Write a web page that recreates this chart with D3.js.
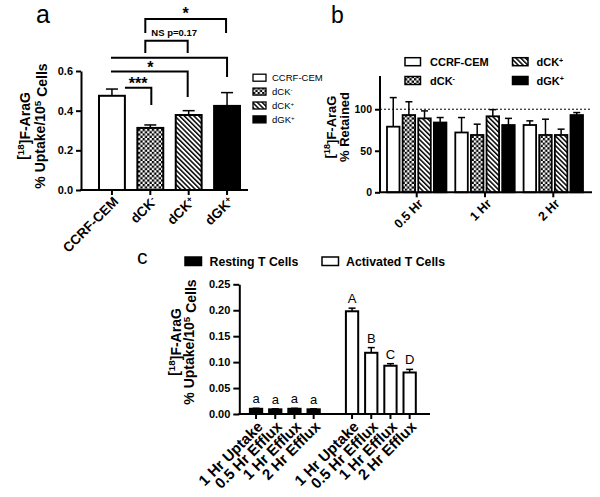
<!DOCTYPE html>
<html>
<head>
<meta charset="utf-8">
<script src="https://cdn.jsdelivr.net/npm/d3@7"></script>
<style>
  body { margin: 0; background: #fff; }
</style>
</head>
<body>
<script>
// ---- data ----
// panel a : uptake
const aCategories = ['CCRF-CEM', 'dCK-', 'dCK+', 'dGK+'];
const aValues = [0.475, 0.313, 0.378, 0.424];
const aErrors = [0.034, 0.015, 0.022, 0.067];
const aTicks = [0, 0.2, 0.4, 0.6];
// significance brackets (from/to category, y in data units)
const aBrackets = [
  { from: 'dCK-', to: 'dGK+', y: 0.862, drop1: 0.792, drop2: 0.792, label: '*', dx1: -5, dx2: -1 },
  { from: 'dCK-', to: 'dCK+', y: 0.753, drop1: 0.691, drop2: 0.691, label: 'NS p=0.17', dx1: -5, dx2: -1 },
  { from: 'CCRF-CEM', to: 'dGK+', y: 0.667, drop1: null, drop2: 0.570, label: '', dx1: -1, dx2: 0 },
  { from: 'CCRF-CEM', to: 'dCK+', y: 0.597, drop1: null, drop2: 0.469, label: '*', dx1: -1, dx2: -1 },
  { from: 'CCRF-CEM', to: 'dCK-', y: 0.516, drop1: null, drop2: 0.429, label: '***', dx1: 13, dx2: 1 }
];

// panel b : retention
const bTimes = ['0.5 Hr', '1 Hr', '2 Hr'];
const bSeries = ['CCRF-CEM', 'dCK-', 'dCK+', 'dGK+'];
const bValues = [[79, 93, 89, 84], [72, 69, 91.5, 81], [81, 69, 69, 93]];
const bErrors = [[35, 16, 9, 6], [18, 13, 8, 8], [5, 19, 7, 3]];
const bTicks = [0, 50, 100];

// panel c : T cells
const cLabels = ['1 Hr Uptake', '0.5 Hr Efflux', '1 Hr Efflux', '2 Hr Efflux'];
const cGroups = ['Resting T Cells', 'Activated T Cells'];
const cResting = [0.010, 0.009, 0.010, 0.009];
const cRestingErr = [0.001, 0.001, 0.001, 0.001];
const cActivated = [0.198, 0.118, 0.093, 0.080];
const cActivatedErr = [0.006, 0.010, 0.004, 0.006];
const cRestingLetters = ['a', 'a', 'a', 'a'];
const cActivatedLetters = ['A', 'B', 'C', 'D'];
const cTicks = [0, 0.05, 0.10, 0.15, 0.20, 0.25];

const font = '"Liberation Sans", Arial, sans-serif';

const svg = d3.select('body').append('svg')
  .attr('width', 600)
  .attr('height', 497)
  .style('font-family', font);

// ---- patterns ----
const defs = svg.append('defs');
const checker = defs.append('pattern')
  .attr('id', 'checker')
  .attr('patternUnits', 'userSpaceOnUse')
  .attr('width', 4.6).attr('height', 4.6);
checker.append('rect').attr('width', 4.6).attr('height', 4.6).attr('fill', '#fff');
checker.append('rect').attr('width', 2.3).attr('height', 2.3).attr('fill', '#000');
checker.append('rect').attr('x', 2.3).attr('y', 2.3).attr('width', 2.3).attr('height', 2.3).attr('fill', '#000');

const stripes = defs.append('pattern')
  .attr('id', 'stripes')
  .attr('patternUnits', 'userSpaceOnUse')
  .attr('width', 3.4).attr('height', 3.4)
  .attr('patternTransform', 'rotate(-45)');
stripes.append('rect').attr('width', 3.4).attr('height', 3.4).attr('fill', '#fff');
stripes.append('rect').attr('width', 1.5).attr('height', 3.4).attr('fill', '#000');

const fills = {
  'CCRF-CEM': '#fff',
  'dCK-': 'url(#checker)',
  'dCK+': 'url(#stripes)',
  'dGK+': '#000'
};

// text with trailing +/- as superscript
function supText(sel, name, supSize) {
  const m = name.match(/^(dCK|dGK)([+-])$/);
  sel.text(null);
  if (!m) { sel.text(name); return; }
  sel.append('tspan').text(m[1]);
  sel.append('tspan').attr('dy', '-0.45em').attr('font-size', supSize || '65%').text(m[2]);
}

// y-axis title: "[18F]F-AraG" + second line
function yTitle(g, cx1, cx2, cy, line2, size) {
  const t1 = g.append('text')
    .attr('transform', `translate(${cx1},${cy}) rotate(-90)`)
    .attr('text-anchor', 'middle')
    .attr('dy', '0.35em')
    .attr('font-size', size)
    .attr('font-weight', 'bold');
  t1.append('tspan').text('[');
  t1.append('tspan').attr('dy', '-0.4em').attr('font-size', '70%').text('18');
  t1.append('tspan').attr('dy', '0.4em').text(']F-AraG');
  const t2 = g.append('text')
    .attr('transform', `translate(${cx2},${cy}) rotate(-90)`)
    .attr('text-anchor', 'middle')
    .attr('dy', '0.35em')
    .attr('font-size', size)
    .attr('font-weight', 'bold');
  if (line2 === 'uptake') {
    t2.append('tspan').text('% Uptake/10');
    t2.append('tspan').attr('dy', '-0.4em').attr('font-size', '70%').text('5');
    t2.append('tspan').attr('dy', '0.4em').text(' Cells');
  } else {
    t2.text(line2);
  }
}

function styleAxis(g, fontSize) {
  g.attr('font-family', font).attr('font-size', fontSize).attr('font-weight', 'bold');
  g.selectAll('path, line').attr('stroke', '#000').attr('stroke-width', 2);
  g.selectAll('text').attr('fill', '#000');
}

function errorBar(g, cx, yTop, yVal, cap) {
  g.append('line').attr('x1', cx).attr('x2', cx).attr('y1', yVal).attr('y2', yTop)
    .attr('stroke', '#000').attr('stroke-width', 1.5);
  g.append('line').attr('x1', cx - cap / 2).attr('x2', cx + cap / 2).attr('y1', yTop).attr('y2', yTop)
    .attr('stroke', '#000').attr('stroke-width', 1.5);
}

// panel letters
svg.append('text').attr('x', 36).attr('y', 23).attr('font-size', 25).text('a');
svg.append('text').attr('x', 331).attr('y', 22.5).attr('font-size', 23).text('b');
svg.append('text').attr('x', 137).attr('y', 264).attr('font-size', 21).text('c');

// ================= panel a =================
(function () {
  const g = svg.append('g');
  const y = d3.scaleLinear().domain([0, 0.6]).range([190, 71]);
  const x = d3.scaleBand().domain(aCategories).range([99, 240]).paddingInner(0.325);
  const bw = x.bandwidth();

  // bars
  aCategories.forEach((c, i) => {
    g.append('rect')
      .attr('x', x(c)).attr('y', y(aValues[i]))
      .attr('width', bw).attr('height', y(0) - y(aValues[i]))
      .attr('fill', fills[c]).attr('stroke', '#000').attr('stroke-width', 2);
    errorBar(g, x(c) + bw / 2, y(aValues[i] + aErrors[i]), y(aValues[i]), 12);
  });

  // axes
  const yAxis = g.append('g').attr('transform', 'translate(81,0)')
    .call(d3.axisLeft(y).tickValues(aTicks).tickFormat(d3.format('.1f')).tickSize(5).tickSizeOuter(0).tickPadding(3));
  styleAxis(yAxis, 11);
  const xAxis = g.append('g').attr('transform', 'translate(0,190)')
    .call(d3.axisBottom(x).tickSize(5).tickSizeOuter(0).tickFormat(''));
  styleAxis(xAxis, 13.5);
  xAxis.select('.domain').attr('d', 'M80,0H248');
  xAxis.selectAll('.tick').each(function (d) {
    const t = d3.select(this).append('text')
      .attr('transform', 'translate(4,9) rotate(-45)')
      .attr('text-anchor', 'end')
      .attr('dy', '0.35em')
      .attr('fill', '#000');
    supText(t, d);
  });

  yTitle(g, 23, 40, 126, 'uptake', 14);

  // brackets
  aBrackets.forEach(b => {
    const x1 = x(b.from) + bw / 2 + b.dx1;
    const x2 = x(b.to) + bw / 2 + b.dx2;
    let d = b.drop1 != null ? `M${x1},${y(b.drop1)}V${y(b.y)}` : `M${x1},${y(b.y)}`;
    d += `H${x2}V${y(b.drop2)}`;
    g.append('path').attr('d', d).attr('fill', 'none').attr('stroke', '#000').attr('stroke-width', 2);
    if (b.label === 'NS p=0.17') {
      g.append('text').attr('x', x1 + 6).attr('y', y(b.y) - 5)
        .attr('font-size', 9.5).attr('font-weight', 'bold').text(b.label);
    } else if (b.label === '***') {
      g.append('text').attr('x', (x1 + x2) / 2).attr('y', y(b.y) + 1.5)
        .attr('text-anchor', 'middle').attr('font-size', 16).attr('font-weight', 'bold').text(b.label);
    } else if (b.label === '*') {
      const tx = b.to === 'dGK+' ? (x1 + x2) / 2 : x(aCategories[1]) + bw / 2;
      g.append('text').attr('x', tx).attr('y', y(b.y) + (b.to === 'dGK+' ? 0 : 1.5))
        .attr('text-anchor', 'middle').attr('font-size', 16).attr('font-weight', 'bold').text(b.label);
    }
  });

  // legend
  const lg = g.append('g');
  aCategories.forEach((c, i) => {
    const ly = 77.7 + i * 13.9;
    lg.append('rect').attr('x', 253).attr('y', ly - 3.5).attr('width', 13).attr('height', 7)
      .attr('fill', fills[c]).attr('stroke', '#000').attr('stroke-width', 1.3);
    const t = lg.append('text').attr('x', 272).attr('y', ly).attr('dy', '0.35em').attr('font-size', 9.5);
    supText(t, c);
  });
})();

// ================= panel b =================
(function () {
  const g = svg.append('g');
  const y = d3.scaleLinear().domain([0, 140]).range([192.3, 76]);
  const x0 = d3.scaleBand().domain(bTimes).range([387, 583]).paddingInner(0.13);
  const x1 = d3.scaleBand().domain(bSeries).range([0, x0.bandwidth()]).paddingInner(0.2);
  const bw = x1.bandwidth();

  // reference line at 100
  g.append('line').attr('x1', 380).attr('x2', 592).attr('y1', y(100)).attr('y2', y(100))
    .attr('stroke', '#000').attr('stroke-width', 1).attr('stroke-dasharray', '2,2');

  bTimes.forEach((t, gi) => {
    bSeries.forEach((s, si) => {
      const v = bValues[gi][si];
      const bx = x0(t) + x1(s);
      g.append('rect')
        .attr('x', bx).attr('y', y(v)).attr('width', bw).attr('height', y(0) - y(v))
        .attr('fill', fills[s]).attr('stroke', '#000').attr('stroke-width', 1.8);
      errorBar(g, bx + bw / 2, y(v + bErrors[gi][si]), y(v), 7);
    });
  });

  const yAxis = g.append('g').attr('transform', 'translate(380,0)')
    .call(d3.axisLeft(y).tickValues(bTicks).tickFormat(d3.format('d')).tickSize(5).tickSizeOuter(0).tickPadding(3));
  styleAxis(yAxis, 10.5);
  yAxis.select('.domain').attr('d', `M0,${y(0)}V${y(140)}`);
  const xAxis = g.append('g').attr('transform', 'translate(0,192.3)')
    .call(d3.axisBottom(x0).tickSize(5).tickSizeOuter(0));
  styleAxis(xAxis, 12.5);
  xAxis.select('.domain').attr('d', 'M379,0H592');
  xAxis.selectAll('.tick text')
    .attr('y', 0).attr('dy', '0.35em')
    .attr('transform', 'translate(4,9) rotate(-45)')
    .attr('text-anchor', 'end');

  yTitle(g, 329.5, 344.5, 127, '% Retained', 13);

  // legend, two columns
  const cols = [[405, 430], [512.5, 536.5]];
  const rows = [61.7, 80.5];
  bSeries.forEach((s, i) => {
    const c = cols[Math.floor(i / 2)];
    const r = rows[i % 2];
    g.append('rect').attr('x', c[0]).attr('y', r - 4).attr('width', 15.5).attr('height', 8)
      .attr('fill', fills[s]).attr('stroke', '#000').attr('stroke-width', 1.5);
    const t = g.append('text').attr('x', c[1]).attr('y', r).attr('dy', '0.38em')
      .attr('font-size', 11).attr('font-weight', 'bold');
    supText(t, s);
  });
})();

// ================= panel c =================
(function () {
  const g = svg.append('g');
  const keys = cLabels.map((l, i) => 'R' + i).concat(['gap'], cLabels.map((l, i) => 'A' + i));
  const y = d3.scaleLinear().domain([0, 0.25]).range([414, 284.3]);
  const x = d3.scaleBand().domain(keys).range([249.9, 415.8]).paddingInner(0.36);
  const bw = x.bandwidth();

  const series = [
    { prefix: 'R', values: cResting, errs: cRestingErr, letters: cRestingLetters, fill: '#000' },
    { prefix: 'A', values: cActivated, errs: cActivatedErr, letters: cActivatedLetters, fill: '#fff' }
  ];
  series.forEach(s => {
    s.values.forEach((v, i) => {
      const k = s.prefix + i;
      g.append('rect')
        .attr('x', x(k)).attr('y', y(v)).attr('width', bw).attr('height', y(0) - y(v))
        .attr('fill', s.fill).attr('stroke', '#000').attr('stroke-width', 2);
      const top = y(v + s.errs[i]);
      errorBar(g, x(k) + bw / 2, top, y(v), 7);
      g.append('text').attr('x', x(k) + bw / 2).attr('y', top - 5)
        .attr('text-anchor', 'middle').attr('font-size', 13).text(s.letters[i]);
    });
  });

  const yAxis = g.append('g').attr('transform', 'translate(239.3,0)')
    .call(d3.axisLeft(y).tickValues(cTicks).tickFormat(d3.format('.2f')).tickSize(6).tickSizeOuter(0).tickPadding(3));
  styleAxis(yAxis, 11);
  const xAxis = g.append('g').attr('transform', 'translate(0,414)')
    .call(d3.axisBottom(x).tickValues(keys.filter(k => k !== 'gap')).tickSize(5).tickSizeOuter(0)
      .tickFormat(k => cLabels[+k.slice(1)]));
  styleAxis(xAxis, 15);
  xAxis.select('.domain').attr('d', 'M238.3,0H430');
  xAxis.selectAll('.tick text')
    .attr('y', 0).attr('dy', '0.35em')
    .attr('transform', 'translate(4,10) rotate(-45)')
    .attr('text-anchor', 'end');

  yTitle(g, 174, 189, 342, 'uptake', 14);

  // legend
  const leg = [[185, 209.5], [322, 346]];
  cGroups.forEach((name, i) => {
    g.append('rect').attr('x', leg[i][0]).attr('y', 257).attr('width', 16.5).attr('height', 8.5)
      .attr('fill', series[i].fill).attr('stroke', '#000').attr('stroke-width', 1.5);
    g.append('text').attr('x', leg[i][1]).attr('y', 265.5)
      .attr('font-size', 12.3).attr('font-weight', 'bold').text(name);
  });
})();
</script>
</body>
</html>
